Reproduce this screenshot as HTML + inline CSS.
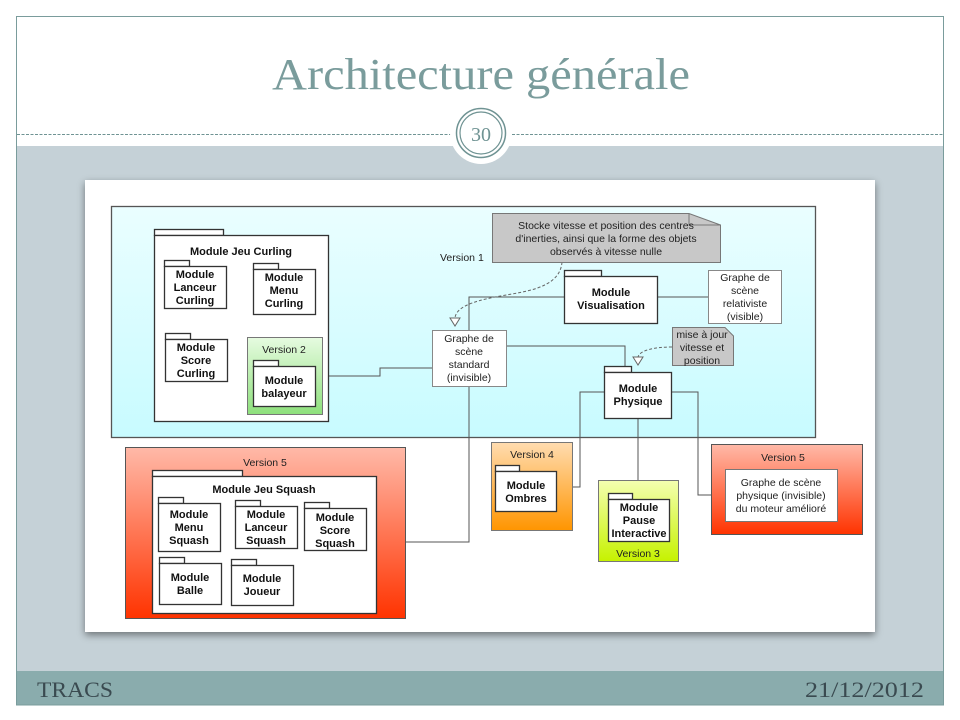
<!DOCTYPE html>
<html><head><meta charset="utf-8"><style>
html,body{margin:0;padding:0;background:#fff;}
svg{display:block}
text{font-family:"Liberation Sans",sans-serif;}
.b{font-weight:bold;font-size:11px;fill:#111;text-anchor:middle}
.n{font-size:10.5px;fill:#222;text-anchor:middle}
.pk{fill:#fff;stroke:#333;stroke-width:1.3}
.ln{fill:none;stroke:#555;stroke-width:1}
</style></head><body>
<svg width="960" height="720" viewBox="0 0 960 720" xmlns="http://www.w3.org/2000/svg">
<defs>
<linearGradient id="cy" x1="0" y1="0" x2="0" y2="1"><stop offset="0" stop-color="#eafeff"/><stop offset="1" stop-color="#c8fbff"/></linearGradient>
<linearGradient id="rd" x1="0" y1="0" x2="0" y2="1"><stop offset="0" stop-color="#ffb9a8"/><stop offset="1" stop-color="#ff3300"/></linearGradient>
<linearGradient id="or" x1="0" y1="0" x2="0" y2="1"><stop offset="0" stop-color="#ffdcb0"/><stop offset="1" stop-color="#ff9500"/></linearGradient>
<linearGradient id="gr" x1="0" y1="0" x2="0" y2="1"><stop offset="0" stop-color="#e6fbe0"/><stop offset="1" stop-color="#8ee07c"/></linearGradient>
<linearGradient id="lm" x1="0" y1="0" x2="0" y2="1"><stop offset="0" stop-color="#f4ffb0"/><stop offset="1" stop-color="#c6f200"/></linearGradient>
<filter id="sh" x="-5%" y="-5%" width="110%" height="115%"><feDropShadow dx="0" dy="3" stdDeviation="4" flood-color="#000" flood-opacity="0.45"/></filter>
</defs>
<rect x="0" y="0" width="960" height="720" fill="#fff"/>
<rect x="16.5" y="146" width="927" height="525" fill="#c5d1d7"/>
<rect x="16.5" y="671" width="927" height="34" fill="#8aacad"/>
<rect x="16.5" y="16.5" width="927" height="688.5" fill="none" stroke="#7a9c9c" stroke-width="1"/>
<line x1="17" y1="134.5" x2="943" y2="134.5" stroke="#6f9393" stroke-dasharray="3,1.5" stroke-width="1"/>
<circle cx="481" cy="133" r="31" fill="#fff"/>
<circle cx="481" cy="133" r="24.5" fill="#fff" stroke="#6f9393" stroke-width="1.5"/>
<circle cx="481" cy="133" r="21" fill="none" stroke="#6f9393" stroke-width="1.2"/>
<text x="481" y="141" text-anchor="middle" style="font-family:'Liberation Serif',serif;font-size:20px;fill:#6f9393">30</text>
<text x="272" y="89" textLength="418" lengthAdjust="spacingAndGlyphs" style="font-family:'Liberation Serif',serif;font-size:44px;fill:#7a9c9c">Architecture générale</text>
<text x="37" y="697" textLength="76" lengthAdjust="spacingAndGlyphs" style="font-family:'Liberation Serif',serif;font-size:22px;fill:#3a4a50">TRACS</text>
<text x="805" y="697" textLength="119" lengthAdjust="spacingAndGlyphs" style="font-family:'Liberation Serif',serif;font-size:22px;fill:#3a4a50">21/12/2012</text>
<rect x="85" y="180" width="790" height="452" fill="#fff" filter="url(#sh)"/>
<rect x="111.5" y="206.5" width="704" height="231" fill="url(#cy)" stroke="#555" stroke-width="1.3"/>
<text x="440" y="261" style="font-size:10.5px;fill:#222">Version 1</text>
<g class="ln">
<polyline points="328,376 380,376 380,368 432,368"/>
<polyline points="469,330 469,297 564,297"/>
<polyline points="657,297 708,297"/>
<polyline points="506,346 625,346 625,366"/>
<polyline points="469,386 469,542 376,542"/>
<polyline points="604,392 580,392 580,487 556,487"/>
<polyline points="638,418 638,493"/>
<polyline points="671,392 698,392 698,495 725,495"/>
</g>
<path d="M562,262 C560,290 520,292 495,297 C470,302 456,308 455,318" fill="none" stroke="#666" stroke-dasharray="3,2"/>
<polygon points="450,318 460,318 455,326" fill="#fff" stroke="#666"/>
<path d="M672,347 C655,347 640,350 638,357" fill="none" stroke="#666" stroke-dasharray="3,2"/>
<polygon points="633,357 643,357 638,365" fill="#fff" stroke="#666"/>
<path d="M492.5,213.5 L689,213.5 L720.5,225 L720.5,262.5 L492.5,262.5 Z" fill="#c8c8c8" stroke="#777"/>
<path d="M689,213.5 L689,225 L720.5,225" fill="none" stroke="#777"/>
<text class="n" x="606" y="229">Stocke vitesse et position des centres</text>
<text class="n" x="606" y="242">d'inerties, ainsi que la forme des objets</text>
<text class="n" x="606" y="255">observés à vitesse nulle</text>
<path d="M672.5,327.5 L725,327.5 L733.5,336 L733.5,365.5 L672.5,365.5 Z" fill="#c8c8c8" stroke="#777"/>
<text class="n" x="702" y="338">mise à jour</text>
<text class="n" x="702" y="351">vitesse et</text>
<text class="n" x="702" y="364">position</text>
<rect x="432.5" y="330.5" width="74" height="56" fill="#fff" stroke="#888"/>
<text class="n" x="469" y="342">Graphe de</text>
<text class="n" x="469" y="355">scène</text>
<text class="n" x="469" y="368">standard</text>
<text class="n" x="469" y="381">(invisible)</text>
<rect x="708.5" y="270.5" width="73" height="53" fill="#fff" stroke="#888"/>
<text class="n" x="745" y="281">Graphe de</text>
<text class="n" x="745" y="294">scène</text>
<text class="n" x="745" y="307">relativiste</text>
<text class="n" x="745" y="320">(visible)</text>
<rect class="pk" x="154.5" y="229.5" width="69" height="6"/>
<rect class="pk" x="154.5" y="235.5" width="174" height="186"/>
<text class="b" x="241" y="255">Module Jeu Curling</text>
<rect class="pk" x="164.5" y="260.5" width="25" height="6"/><rect class="pk" x="164.5" y="266.5" width="62" height="42"/>
<text class="b" x="195" y="278">Module</text><text class="b" x="195" y="291">Lanceur</text><text class="b" x="195" y="304">Curling</text>
<rect class="pk" x="253.5" y="263.5" width="25" height="6"/><rect class="pk" x="253.5" y="269.5" width="62" height="45"/>
<text class="b" x="284" y="281">Module</text><text class="b" x="284" y="294">Menu</text><text class="b" x="284" y="307">Curling</text>
<rect class="pk" x="165.5" y="333.5" width="25" height="6"/><rect class="pk" x="165.5" y="339.5" width="62" height="42"/>
<text class="b" x="196" y="351">Module</text><text class="b" x="196" y="364">Score</text><text class="b" x="196" y="377">Curling</text>
<rect x="247.5" y="337.5" width="75" height="77" fill="url(#gr)" stroke="#777"/>
<text class="n" x="284" y="353">Version 2</text>
<rect class="pk" x="253.5" y="360.5" width="25" height="6"/><rect class="pk" x="253.5" y="366.5" width="62" height="40"/>
<text class="b" x="284" y="384">Module</text><text class="b" x="284" y="397">balayeur</text>
<rect class="pk" x="564.5" y="270.5" width="37" height="6"/><rect class="pk" x="564.5" y="276.5" width="93" height="47"/>
<text class="b" x="611" y="296">Module</text><text class="b" x="611" y="309">Visualisation</text>
<rect class="pk" x="604.5" y="366.5" width="27" height="6"/><rect class="pk" x="604.5" y="372.5" width="67" height="46"/>
<text class="b" x="638" y="392">Module</text><text class="b" x="638" y="405">Physique</text>
<rect x="491.5" y="442.5" width="81" height="88" fill="url(#or)" stroke="#777"/>
<text class="n" x="532" y="458">Version 4</text>
<rect class="pk" x="495.5" y="465.5" width="24" height="6"/><rect class="pk" x="495.5" y="471.5" width="61" height="40"/>
<text class="b" x="526" y="489">Module</text><text class="b" x="526" y="502">Ombres</text>
<rect x="598.5" y="480.5" width="80" height="81" fill="url(#lm)" stroke="#777"/>
<rect class="pk" x="608.5" y="493.5" width="24" height="6"/><rect class="pk" x="608.5" y="499.5" width="61" height="42"/>
<text class="b" x="639" y="511">Module</text><text class="b" x="639" y="524">Pause</text><text class="b" x="639" y="537">Interactive</text>
<text class="n" x="638" y="557">Version 3</text>
<rect x="711.5" y="444.5" width="151" height="90" fill="url(#rd)" stroke="#555"/>
<text class="n" x="783" y="461">Version 5</text>
<rect x="725.5" y="469.5" width="112" height="52" fill="#fff" stroke="#777"/>
<text class="n" x="781" y="486">Graphe de scène</text>
<text class="n" x="781" y="499">physique (invisible)</text>
<text class="n" x="781" y="512">du moteur amélioré</text>
<rect x="125.5" y="447.5" width="280" height="171" fill="url(#rd)" stroke="#555"/>
<text class="n" x="265" y="466">Version 5</text>
<rect class="pk" x="152.5" y="470.5" width="90" height="6"/><rect class="pk" x="152.5" y="476.5" width="224" height="137"/>
<text class="b" x="264" y="493">Module Jeu Squash</text>
<rect class="pk" x="158.5" y="497.5" width="25" height="6"/><rect class="pk" x="158.5" y="503.5" width="62" height="48"/>
<text class="b" x="189" y="518">Module</text><text class="b" x="189" y="531">Menu</text><text class="b" x="189" y="544">Squash</text>
<rect class="pk" x="235.5" y="500.5" width="25" height="6"/><rect class="pk" x="235.5" y="506.5" width="62" height="42"/>
<text class="b" x="266" y="518">Module</text><text class="b" x="266" y="531">Lanceur</text><text class="b" x="266" y="544">Squash</text>
<rect class="pk" x="304.5" y="502.5" width="25" height="6"/><rect class="pk" x="304.5" y="508.5" width="62" height="42"/>
<text class="b" x="335" y="521">Module</text><text class="b" x="335" y="534">Score</text><text class="b" x="335" y="547">Squash</text>
<rect class="pk" x="159.5" y="557.5" width="25" height="6"/><rect class="pk" x="159.5" y="563.5" width="62" height="41"/>
<text class="b" x="190" y="581">Module</text><text class="b" x="190" y="594">Balle</text>
<rect class="pk" x="231.5" y="559.5" width="25" height="6"/><rect class="pk" x="231.5" y="565.5" width="62" height="40"/>
<text class="b" x="262" y="582">Module</text><text class="b" x="262" y="595">Joueur</text>
</svg>
</body></html>
